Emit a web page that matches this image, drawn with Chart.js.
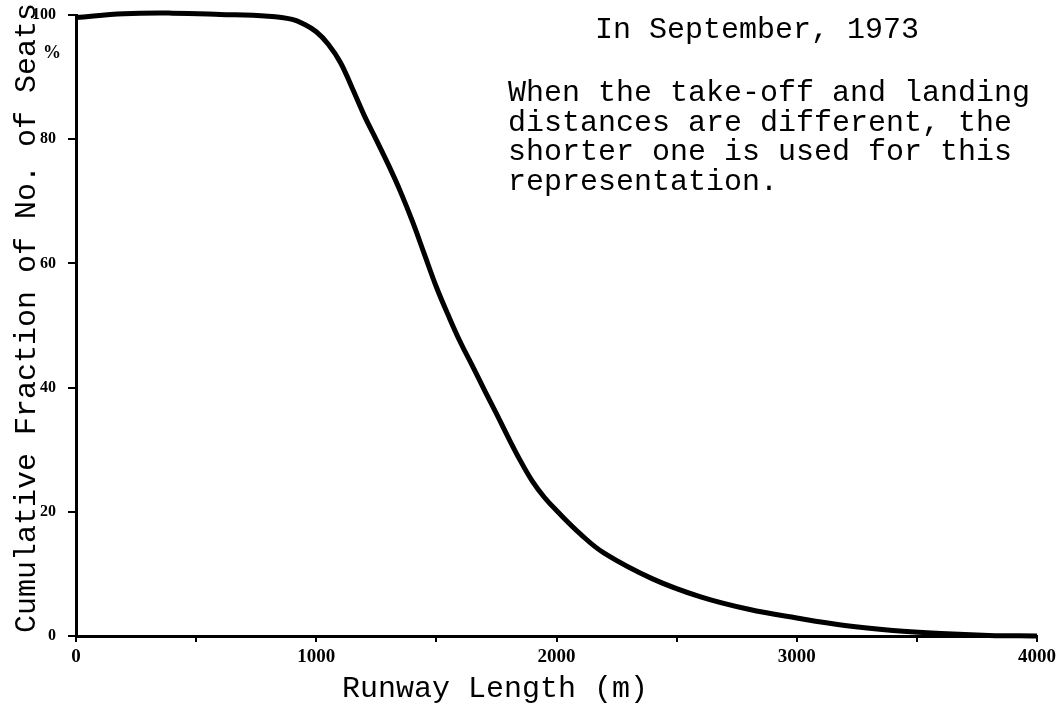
<!DOCTYPE html>
<html>
<head>
<meta charset="utf-8">
<title>Runway Length</title>
<script src="https://cdn.jsdelivr.net/npm/chart.js@4.4.1/dist/chart.umd.min.js"></script>
<style>
    html, body { margin: 0; padding: 0; background: #fff; }
    #wrap { width: 1058px; height: 707px; position: relative; }
</style>
</head>
<body>
<div id="wrap"><canvas id="runwayChart"></canvas></div>
<script>
// runway length (m) and cumulative share of seats (%)
var runwayLengths = [0, 200, 400, 600, 800, 900, 950, 1000, 1050, 1100, 1150, 1200, 1250, 1300, 1350, 1400,
    1450, 1500, 1550, 1600, 1650, 1700, 1750, 1800, 1850, 1900, 1950, 2000, 2100, 2200, 2400, 2600, 2800, 3000,
    3200, 3400, 3600, 3800, 4000];
var seatFractions = [99.6, 100.2, 100.3, 100.1, 99.8, 99.3, 98.5, 97.3, 95.3, 92.4, 88.2, 83.8, 79.9, 75.9, 71.6, 66.8,
    61.5, 56.2, 51.6, 47.3, 43.5, 39.6, 35.8, 31.9, 28.2, 24.9, 22.3, 20.2, 16.4, 13.3, 9.2, 6.3, 4.3, 2.9,
    1.7, 0.9, 0.4, 0.1, 0];
var xTicks = [0, 1000, 2000, 3000, 4000];
var yTicks = [0, 20, 40, 60, 80, 100];

var xTitle = 'Runway Length (m)';
var yTitle = 'Cumulative Fraction of No. of Seats';
var noteTitle = 'In September, 1973';
var noteLines = [
    'When the take-off and landing',
    'distances are different, the',
    'shorter one is used for this',
    'representation.'
];

var typeFont = "30px 'Liberation Mono', 'Courier New', monospace";
var xTickFont = { family: "'Liberation Serif', serif", size: 19, weight: 'bold' };
var yTickFont = { family: "'Liberation Serif', serif", size: 16, weight: 'bold' };

function eachItem(list, fn) {
    for (var i = 0; i < list.length; i++) {
        fn(i, list[i]);
    }
}

// texts that sit outside the scales
var textPlugin = {
    id: 'typedText',
    afterDraw: function (chart) {
        var ctx = chart.ctx;
        ctx.save();
        ctx.fillStyle = '#000';
        ctx.font = typeFont;
        ctx.textBaseline = 'alphabetic';

        ctx.textAlign = 'left';
        ctx.fillText(noteTitle, 595, 38);
        eachItem(noteLines, function (i, line) {
            ctx.fillText(line, 508, 101 + i * 29.5);
        });

        ctx.textAlign = 'center';
        ctx.fillText(xTitle, 495, 697);

        ctx.save();
        ctx.translate(35, 318);
        ctx.rotate(-Math.PI / 2);
        ctx.fillText(yTitle, 0, 0);
        ctx.restore();

        ctx.font = "bold 18px 'Liberation Serif', serif";
        ctx.fillText('%', 52, 58);
        ctx.restore();
    }
};

var points = runwayLengths.map(function (x, i) {
    return { x: x, y: seatFractions[i] };
});

var ctx = document.getElementById('runwayChart').getContext('2d');
var chart = new Chart(ctx, {
    type: 'line',
    data: {
        datasets: [{
            data: points,
            borderColor: '#000',
            borderWidth: 5,
            pointRadius: 0,
            tension: 0.4,
            clip: false
        }]
    },
    options: {
        responsive: true,
        maintainAspectRatio: false,
        animation: false,
        layout: {
            padding: { left: 16, right: 21, top: 15, bottom: 36 }
        },
        plugins: {
            legend: { display: false },
            tooltip: { enabled: false }
        },
        scales: {
            x: {
                type: 'linear',
                min: 0,
                max: 4000,
                afterFit: function (scale) {
                    scale.height = 35;
                    scale.paddingLeft = 0;
                    scale.paddingRight = 0;
                },
                afterBuildTicks: function (scale) {
                    var ticks = [];
                    for (var v = 0; v <= 4000; v += 500) {
                        ticks.push({ value: v });
                    }
                    scale.ticks = ticks;
                },
                ticks: {
                    color: '#000',
                    font: xTickFont,
                    padding: 4,
                    maxRotation: 0,
                    autoSkip: false,
                    callback: function (value) {
                        return xTicks.indexOf(value) >= 0 ? value : '';
                    }
                },
                grid: {
                    drawOnChartArea: false,
                    color: '#000',
                    lineWidth: 2,
                    tickLength: 6
                },
                border: { color: '#000', width: 3 }
            },
            y: {
                min: 0,
                max: 100,
                afterFit: function (scale) {
                    scale.width = 60;
                    scale.paddingTop = 0;
                    scale.paddingBottom = 0;
                },
                afterBuildTicks: function (scale) {
                    scale.ticks = yTicks.map(function (v) { return { value: v }; });
                },
                ticks: {
                    color: '#000',
                    font: yTickFont,
                    padding: 12
                },
                grid: {
                    drawOnChartArea: false,
                    color: '#000',
                    lineWidth: 2,
                    tickLength: 8
                },
                border: { color: '#000', width: 3 }
            }
        }
    },
    plugins: [textPlugin]
});
</script>
</body>
</html>
